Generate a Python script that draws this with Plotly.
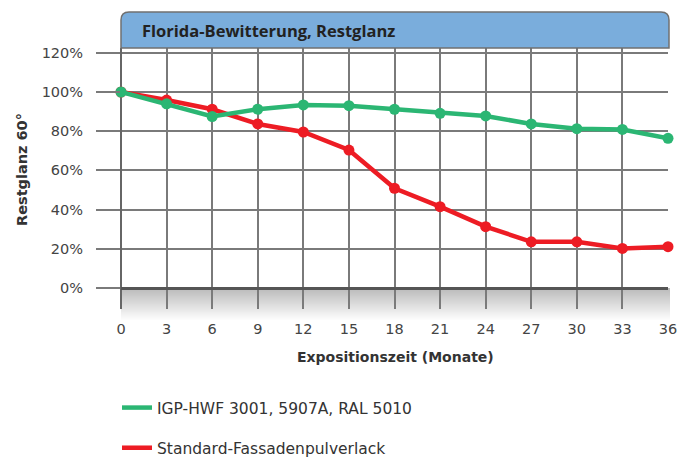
import plotly.graph_objects as go

months = [0, 3, 6, 9, 12, 15, 18, 21, 24, 27, 30, 33, 36]
igp_hwf = [100, 94, 87.5, 91.2, 93.4, 93, 91.2, 89.1, 87.8, 83.7, 81.3, 80.9, 76.4]
standard = [100, 95.9, 91.2, 83.7, 79.6, 70.4, 50.9, 41.5, 31.3, 23.6, 23.6, 20.2, 21.1]
y_ticks = [0, 20, 40, 60, 80, 100, 120]
y_ticklabels = ["0%", "20%", "40%", "60%", "80%", "100%", "120%"]
names = ["IGP-HWF 3001, 5907A, RAL 5010", "Standard-Fassadenpulverlack"]
title_text = "Florida-Bewitterung, Restglanz"
x_title = "Expositionszeit (Monate)"
y_title = "Restglanz 60°"

GREEN = "#2bb673"
RED = "#ed1c24"
FONT = "DejaVu Sans"
TFONT = "Open Sans"

# page offset (browser body margin)
OFF = 8
W, H = 693 - OFF, 457 - OFF
ML, MR, MT, MB = 121 - OFF, 25, 48 - OFF, 148
YMIN, YMAX = -10.7, 122.45
plot_w = W - ML - MR
plot_h = H - MT - MB

def px_to_paper_y(py):
    return (457 - MB - py) / plot_h

def px_to_paper_x(px):
    return (px - 121) / plot_w

fig = go.Figure()
fig.add_trace(go.Scatter(x=months, y=standard, mode="lines+markers",
                         line=dict(color=RED, width=4.5), marker=dict(color=RED, size=11),
                         showlegend=False, cliponaxis=False))
fig.add_trace(go.Scatter(x=months, y=igp_hwf, mode="lines+markers",
                         line=dict(color=GREEN, width=4.5), marker=dict(color=GREEN, size=11),
                         showlegend=False, cliponaxis=False))
# legend entries (line only)
fig.add_trace(go.Scatter(x=[None], y=[None], mode="lines", name=names[0], legendgroup="a",
                         line=dict(color=GREEN, width=4.5)))
fig.add_trace(go.Scatter(x=[None], y=[None], mode="lines", name=names[1], legendgroup="b",
                         line=dict(color=RED, width=4.5)))

shapes = []
# gray gradient band below 0%
p0 = (0 - YMIN) / (YMAX - YMIN)
band_px = 32
steps = 32
for i in range(steps):
    t = i / steps
    g = int(0xbb + (0xff - 0xbb) * t)
    ytop = p0 - (i * band_px / steps) / plot_h
    ybot = p0 - ((i + 1) * band_px / steps) / plot_h
    shapes.append(dict(type="rect", xref="paper", yref="paper",
                       x0=0, x1=1 + 2 / plot_w, y0=ybot, y1=ytop,
                       fillcolor=f"rgb({g},{g},{g})", line=dict(width=0), layer="below"))

# title box with rounded top corners
bh = 36 / plot_h
rx = 8 / plot_w
ry = 8 / plot_h
x1 = 1 + 1 / plot_w
path = (f"M 0,1 L 0,{1 + bh - ry} Q 0,{1 + bh} {rx},{1 + bh} "
        f"L {x1 - rx},{1 + bh} Q {x1},{1 + bh} {x1},{1 + bh - ry} L {x1},1 Z")
shapes.append(dict(type="path", xref="paper", yref="paper", path=path,
                   fillcolor="#7aaddc", line=dict(color="#707070", width=1.5), layer="above"))

fig.update_layout(
    width=W, height=H,
    margin=dict(l=ML, r=MR, t=MT, b=MB, autoexpand=False),
    paper_bgcolor="white", plot_bgcolor="white",
    font=dict(family=FONT, color="#333", size=14),
    shapes=shapes,
    annotations=[
        dict(text=f"<b>{title_text}</b>", xref="paper", yref="paper",
             x=px_to_paper_x(140), y=1 + bh / 2, xanchor="left", yanchor="middle",
             showarrow=False, font=dict(size=16.5, color="#222", family=TFONT)),
        dict(text=f"<b>{x_title}</b>", xref="paper", yref="paper",
             x=px_to_paper_x(395), y=px_to_paper_y(357), xanchor="center", yanchor="middle",
             showarrow=False, font=dict(size=14, color="#333", family=FONT)),
        dict(text=f"<b>{y_title}</b>", xref="paper", yref="paper", textangle=-90,
             x=px_to_paper_x(22), y=px_to_paper_y(170), xanchor="center", yanchor="middle",
             showarrow=False, font=dict(size=14.5, color="#333", family=FONT)),
    ],
    xaxis=dict(range=[0, 36], tickmode="array", tickvals=months,
               ticktext=[str(m) for m in months], automargin=False,
               showgrid=True, gridcolor="#7a7a7a", gridwidth=1.5,
               zeroline=True, zerolinecolor="#666", zerolinewidth=2,
               showline=False, ticks="", ticklabelstandoff=9,
               tickfont=dict(size=14.5, color="#444")),
    yaxis=dict(range=[YMIN, YMAX], tickmode="array", tickvals=y_ticks, ticktext=y_ticklabels,
               automargin=False,
               showgrid=True, gridcolor="#7a7a7a", gridwidth=1.5,
               zeroline=True, zerolinecolor="#555", zerolinewidth=2.5,
               showline=False, ticks="outside", ticklen=24, tickcolor="#7a7a7a", tickwidth=1.5,
               ticklabelstandoff=10,
               tickfont=dict(size=14.5, color="#444")),
    legend=dict(x=px_to_paper_x(117), y=px_to_paper_y(391), xanchor="left", yanchor="top",
                orientation="v", font=dict(size=15.5, color="#333"),
                itemwidth=30, tracegroupgap=17, bgcolor="rgba(0,0,0,0)"),
)

fig.write_html("out.html")
